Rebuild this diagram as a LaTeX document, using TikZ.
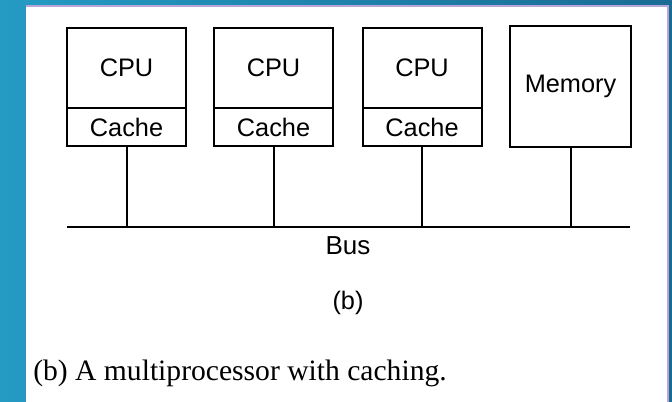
\documentclass[tikz,border=0pt]{standalone}
\usepackage{fontspec}
\setmainfont{Liberation Serif}
\newfontfamily\diagfont{Liberation Sans}
\usepackage{xcolor}
\definecolor{slidecyan}{HTML}{249BC4}
\definecolor{slideblue}{HTML}{1A6B94}
\definecolor{slideedge}{HTML}{B8A6DA}
\tikzset{
  unitbox/.style={draw,line width=1.5pt,inner sep=0pt,outer sep=0pt,minimum width=89.25pt,font=\diagfont\fontsize{19}{21}\selectfont},
  cpubox/.style={unitbox,minimum height=60pt},
  cachebox/.style={unitbox,minimum height=28.5pt},
  membox/.style={unitbox,minimum width=90.75pt,minimum height=90.75pt},
  wire/.style={line width=1.5pt}
}
\begin{document}
\begin{tikzpicture}[x=0.75pt,y=-0.75pt]
\useasboundingbox (0,0) rectangle (672,402);
\shade[left color=slidecyan,right color=slideblue] (0,0) rectangle (672,402);
\fill[white] (26,7) rectangle (667,402);
\draw[slideedge,line width=1.5pt] (26,6) -- (668,6) -- (668,402);
\node[cpubox] (cpu1) at (126.5,68) {CPU};
\node[cachebox,anchor=north] (cache1) at (cpu1.south) {Cache};
\node[cpubox] (cpu2) at (273.5,68) {CPU};
\node[cachebox,anchor=north] (cache2) at (cpu2.south) {Cache};
\node[cpubox] (cpu3) at (422,68) {CPU};
\node[cachebox,anchor=north] (cache3) at (cpu3.south) {Cache};
\node[membox] (mem) at (570.5,86.5) {Memory};
\coordinate (busL) at (67,227);
\coordinate (busR) at (630,227);
\draw[wire] (busL) -- (busR);
\draw[wire] (cache1.south) -- (cache1.south |- busL);
\draw[wire] (cache2.south) -- (cache2.south |- busL);
\draw[wire] (cache3.south) -- (cache3.south |- busL);
\draw[wire] (mem.south) -- (mem.south |- busL);
\node[font=\diagfont\fontsize{19.5}{21}\selectfont] (buslabel) at (348,246) {Bus};
\node[font=\diagfont\fontsize{19}{21}\selectfont] (sublabel) at (348,303) {(b)};
\node[anchor=west,inner sep=0pt,font=\fontsize{22.2}{25}\selectfont] (caption) at (33,373) {(b) A multiprocessor with caching.};
\end{tikzpicture}
\end{document}
